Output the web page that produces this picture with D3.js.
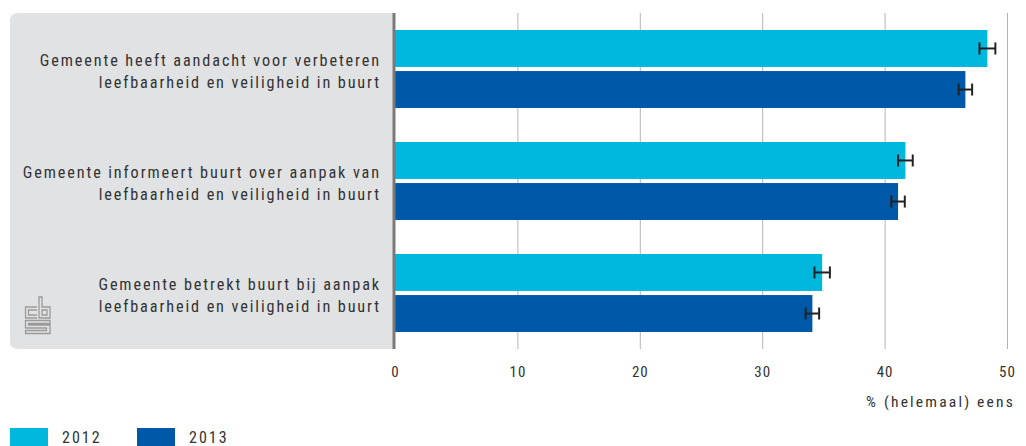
<!DOCTYPE html>
<html><head><meta charset="utf-8">
<script src="https://cdn.jsdelivr.net/npm/d3@7"></script>
<style>
body{margin:0;background:#fff;}
svg{display:block;}
text{font-family:"Roboto Condensed","Roboto",sans-serif;fill:#333;}
</style></head><body>
<svg id="c" width="1026" height="446"></svg>
<script>
const categories = [
  ["Gemeente heeft aandacht voor verbeteren","leefbaarheid en veiligheid in buurt"],
  ["Gemeente informeert buurt over aanpak van","leefbaarheid en veiligheid in buurt"],
  ["Gemeente betrekt buurt bij aanpak","leefbaarheid en veiligheid in buurt"]
];
const seriesNames = ["2012","2013"];
const values2012 = [48.4, 41.7, 34.9];
const values2013 = [46.6, 41.1, 34.1];
const err2012 = [0.65, 0.6, 0.63];
const err2013 = [0.55, 0.55, 0.55];
const xTicks = [0,10,20,30,40,50];
const axisTitle = "% (helemaal) eens";
const colors = ["#00b7de","#0058a8"];

const svg = d3.select("#c");
const x = d3.scaleLinear().domain([0,50]).range([395,1007]);
const y = d3.scaleBand().domain(d3.range(categories.length)).range([13,349]);
const yi = d3.scaleBand().domain([0,1]).range([y.bandwidth()/2-39, y.bandwidth()/2+39]).paddingInner(0.1);

// panel
const panelPath = "M10,21 Q10,13 18,13 L393,13 L393,349 L18,349 Q10,349 10,341 Z";
svg.append("path").attr("d",panelPath).attr("fill","#e1e2e4");

// grid
svg.append("g").selectAll("line").data(xTicks.slice(1)).join("line")
  .attr("x1",d=>x(d)+0.5).attr("x2",d=>x(d)+0.5).attr("y1",13).attr("y2",349)
  .attr("stroke","#b4b4b4").attr("stroke-width",1);

// axis tick labels
const ax = d3.axisBottom(x).tickValues(xTicks).tickSize(0).tickPadding(0);
const axg = svg.append("g").attr("transform","translate(0,366)").call(ax);
axg.select(".domain").remove();
axg.selectAll("text").attr("dy","0.71em").style("font-size","15px").style("letter-spacing","1px")
  .style("font-family",null).attr("fill","#333");

svg.append("text").attr("x",1015).attr("y",407).attr("text-anchor","end")
  .style("font-size","15.5px").style("letter-spacing","2.2px").text(axisTitle);

// bars
const series = [values2012, values2013];
const errs = [err2012, err2013];
categories.forEach((cat,i)=>{
  const g = svg.append("g").attr("transform",`translate(0,${y(i)})`);
  series.forEach((vals,s)=>{
    g.append("rect").attr("x",x(0)).attr("y",yi(s)).attr("width",x(vals[i])-x(0)).attr("height",yi.bandwidth())
      .attr("fill",colors[s]);
    const cy = yi(s)+yi.bandwidth()/2;
    const x1 = x(vals[i]-errs[s][i]), x2 = x(vals[i]+errs[s][i]);
    const eg = g.append("g").attr("stroke","#222").attr("stroke-width",2);
    eg.append("line").attr("x1",x1).attr("x2",x2).attr("y1",cy).attr("y2",cy);
    eg.append("line").attr("x1",x1).attr("x2",x1).attr("y1",cy-6).attr("y2",cy+6);
    eg.append("line").attr("x1",x2).attr("x2",x2).attr("y1",cy-6).attr("y2",cy+6);
  });
  const t = g.append("text").attr("text-anchor","end").style("font-size","16.2px").style("letter-spacing","1.9px");
  t.append("tspan").attr("x",381).attr("y",y.bandwidth()/2-3).text(cat[0]);
  t.append("tspan").attr("x",381).attr("y",y.bandwidth()/2+19).text(cat[1]);
});

// axis line
svg.append("rect").attr("x",392.5).attr("y",13).attr("width",3).attr("height",336).attr("fill","#7a7a7a");

// logo
const lg = svg.append("g").attr("fill","none").attr("stroke","#9a9a9a").attr("stroke-width",1.3);
lg.append("path").attr("d","M37,307 L25.5,307 L25.5,318 L37,318 M37,310 L28.5,310 L28.5,315 L37,315");
lg.append("path").attr("d","M39,297 L39,318 L50,318 L50,307 L42,307 L42,297 Z M42,310 L47,310 L47,315 L42,315 Z");
lg.append("path").attr("d","M50,320.5 L25.5,320.5 L25.5,328 L46.5,328 L46.5,330.5 L25.5,330.5 L25.5,333.5 L50,333.5 L50,325 L28.5,325 L28.5,323.5 L50,323.5 Z");

// legend
const leg = svg.append("g");
seriesNames.forEach((n,i)=>{
  const lx = 10 + i*127;
  leg.append("rect").attr("x",lx).attr("y",428).attr("width",38).attr("height",18).attr("fill",colors[i]);
  leg.append("text").attr("x",lx+52).attr("y",443).style("font-size","16px").style("letter-spacing","2px").text(n);
});
</script></body></html>
